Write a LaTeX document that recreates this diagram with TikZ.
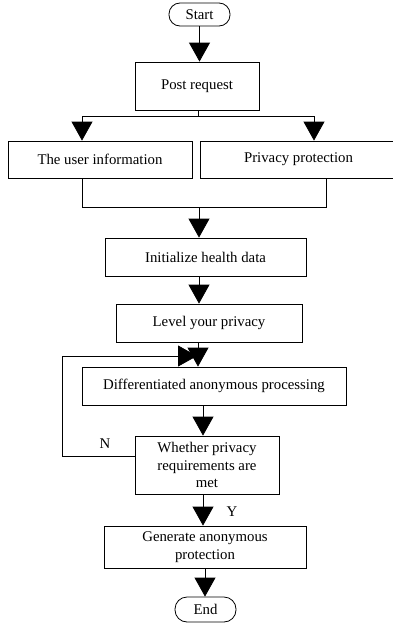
\documentclass[tikz,border=0pt]{standalone}
\usepackage{fontspec}
\setmainfont{Liberation Serif}
\usetikzlibrary{arrows.meta}
\begin{document}
\begin{tikzpicture}[x=1pt,y=-1pt,
  line width=0.8pt,
  font=\fontsize{14.8}{17.5}\selectfont,
  box/.style={draw, rectangle, inner sep=0pt, align=center},
  term/.style={draw, rectangle, rounded corners=11pt, inner sep=0pt},
  arr/.style={-{Triangle[length=19pt,width=21pt]}},
  lbl/.style={inner sep=0pt}]
\useasboundingbox (0,0) rectangle (393,624);
\node[term, minimum width=61pt, minimum height=23pt] (start) at (199.5,14.5) {Start};
\node[box, minimum width=124pt, minimum height=48pt] (post) at (197,86) {Post request};
\node[box, minimum width=184pt, minimum height=37pt] (user) at (100,159.5) {The user information};
\node[box, minimum width=197pt, minimum height=37pt] (priv) at (298.5,159.5) {Privacy protection};
\node[box, minimum width=201pt, minimum height=38pt] (init) at (205.5,257) {Initialize health data};
\node[box, minimum width=186pt, minimum height=38pt] (level) at (209,323) {Level your privacy};
\node[box, minimum width=264pt, minimum height=38pt] (diff) at (214,386) {Differentiated anonymous processing};
\node[box, minimum width=144pt, minimum height=58pt] (wh) at (207,465) {Whether privacy\\requirements are\\met};
\node[box, minimum width=202pt, minimum height=42pt] (gen) at (205,547) {Generate anonymous\\protection};
\node[term, minimum width=61pt, minimum height=25pt, rounded corners=12pt] (end) at (205.5,609.5) {End};
\node[lbl] (n) at (105,444) {N};
\node[lbl] (y) at (232,512) {Y};
% start -> post
\draw[arr] (start.south) -- (start.south |- post.north);
% branch
\coordinate (b0) at (198,116);
\coordinate (b1) at (82,116);
\coordinate (b2) at (314,116);
\draw (b0 |- post.south) -- (b0);
\draw (b1) -- (b2);
\draw[arr] (b1) -- (b1 |- user.north);
\draw[arr] (b2) -- (b2 |- priv.north);
% merge
\coordinate (m0) at (199,207);
\coordinate (m1) at (82,207);
\coordinate (m2) at (326,207);
\draw (m1 |- user.south) -- (m1) -- (m2) -- (m2 |- priv.south);
\draw[arr] (m0) -- (m0 |- init.north);
\draw[arr] (m0 |- init.south) -- (m0 |- level.north);
\coordinate (l0) at (198,0);
\draw[arr] (l0 |- level.south) -- (l0 |- diff.north);
\coordinate (d0) at (203,0);
\draw[arr] (d0 |- diff.south) -- (d0 |- wh.north);
\draw[arr] (d0 |- wh.south) -- (d0 |- gen.north);
\coordinate (g0) at (205,0);
\draw[arr] (g0 |- gen.south) -- (g0 |- end.north);
% feedback
\coordinate (f1) at (62,456);
\coordinate (f2) at (62,356);
\coordinate (f3) at (197,356);
\draw[arr] (f1 -| wh.west) -- (f1) -- (f2) -- (f3);
\end{tikzpicture}
\end{document}
